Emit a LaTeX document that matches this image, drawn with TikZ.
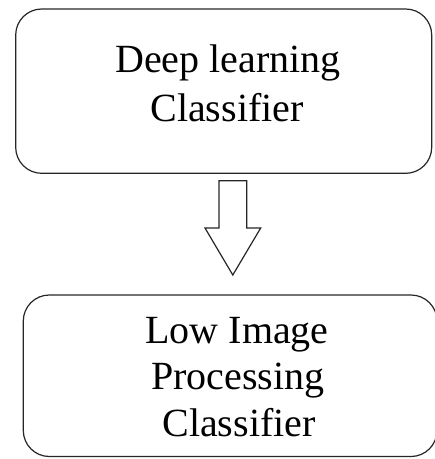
\documentclass[tikz,border=0pt]{standalone}
\usepackage{fontspec}
\setmainfont{Liberation Serif}
\begin{document}
\begin{tikzpicture}[x=1pt,y=-1pt,
  box/.style={draw=black!85,line width=1.2pt,rounded corners=26pt,rectangle,inner sep=0pt},
  txt/.style={anchor=base,inner sep=0pt,font=\fontsize{40}{47}\selectfont},
  blockarrow/.style={draw=black!85,line width=1.2pt,fill=white,line join=miter}]
\useasboundingbox (0,0) rectangle (435,459);
% boxes
\node[box,minimum width=416pt,minimum height=164.3pt] (boxA) at (223.7,91.15) {};
\node[box,minimum width=413.7pt,minimum height=161.5pt] (boxB) at (230.15,375.75) {};
% texts
\node[txt] (a1) at (228,72) {Deep learning};
\node[txt] (a2) at (227,121) {Classifier};
\node[txt] (b1) at (237,343) {Low Image};
\node[txt] (b2) at (238,389) {Processing};
\node[txt] (b3) at (239,436) {Classifier};
% block arrow between the boxes
\draw[blockarrow] (219,180.7) -- (246.7,180.7) -- (246.7,228) -- (260.7,228)
  -- (232.8,275) -- (205,228) -- (219,228) -- cycle;
\end{tikzpicture}
\end{document}
